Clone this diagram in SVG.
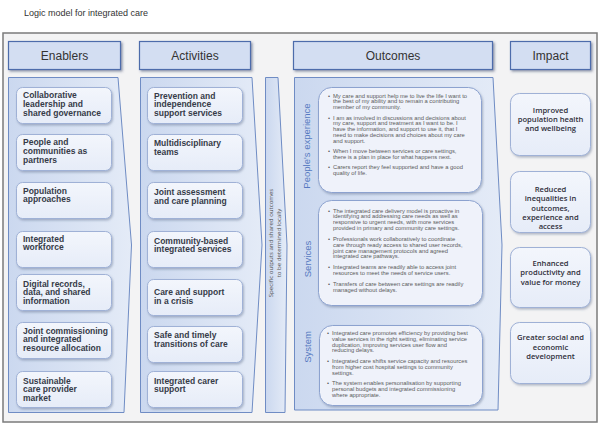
<svg xmlns="http://www.w3.org/2000/svg" width="600" height="425" viewBox="0 0 600 425">
<defs>
<linearGradient id="panelGrad" x1="0" y1="0" x2="1" y2="0">
<stop offset="0" stop-color="#cbd8ef"/>
<stop offset="1" stop-color="#e4ebf7"/>
</linearGradient>
<linearGradient id="boxGrad" x1="0" y1="0" x2="0" y2="1">
<stop offset="0" stop-color="#f3f6fc"/>
<stop offset="1" stop-color="#e6ecf8"/>
</linearGradient>
<filter id="sh" x="-10%" y="-10%" width="125%" height="130%">
<feDropShadow dx="1" dy="1.5" stdDeviation="0.9" flood-color="#5a6a8a" flood-opacity="0.45"/>
</filter>
<filter id="shHead" x="-10%" y="-20%" width="125%" height="150%">
<feDropShadow dx="1.5" dy="1.5" stdDeviation="0.8" flood-color="#3a4a6a" flood-opacity="0.55"/>
</filter>
<style>
.title{font-family:"Liberation Sans",Arial,sans-serif;font-size:9px;fill:#333}
.frame{fill:#f3f3f4;stroke:#7b7b7b;stroke-width:1.5}
.head{fill:#d3def2;stroke:#4d6cab;stroke-width:1.2;filter:url(#shHead)}
.headt{font-family:"Liberation Sans",Arial,sans-serif;font-size:12px;fill:#333;text-anchor:middle}
.panel{fill:url(#panelGrad);stroke:#6f8cc4;stroke-width:1}
.box{fill:url(#boxGrad);stroke:#9fb1d6;stroke-width:1;filter:url(#sh)}
.bt{font-family:"Liberation Sans",Arial,sans-serif;font-size:8.5px;font-weight:bold;fill:#363b48}
.it{font-family:"Open Sans","Noto Sans",sans-serif;font-size:7.6px;font-weight:600;fill:#2f2f3a;text-anchor:middle}
.obox{fill:#eff2fa;stroke:#8ca2cf;stroke-width:1;filter:url(#sh)}
.side{font-family:"Liberation Sans",Arial,sans-serif;font-size:9.5px;fill:#5679c1;text-anchor:middle}
.st{font-family:"Open Sans","Noto Sans",sans-serif;font-size:6.1px;fill:#555;text-anchor:middle}
.bl{font-family:"Liberation Sans",Arial,sans-serif;font-size:5.8px;fill:#5a5a5a}
</style>
</defs>

<text class="title" x="24" y="16">Logic model for integrated care</text>
<rect class="frame" x="3" y="33" width="594" height="389"/>

<g id="header-enablers"><rect class="head" x="8.5" y="41.5" width="112" height="28"/><text class="headt" x="64.5" y="59.5">Enablers</text></g>
<g id="header-activities"><rect class="head" x="139.5" y="41.5" width="111" height="28"/><text class="headt" x="195" y="59.5">Activities</text></g>
<g id="header-outcomes"><rect class="head" x="293.5" y="41.5" width="199" height="28"/><text class="headt" x="393" y="59.5">Outcomes</text></g>
<g id="header-impact"><rect class="head" x="510.5" y="41.5" width="80" height="28"/><text class="headt" x="550.5" y="59.5">Impact</text></g>

<g id="panel-enablers"><polygon class="panel" points="8.5,77.5 118,77.5 131.5,245 124,412.5 8.5,412.5"/></g>
<g id="panel-activities"><polygon class="panel" points="140.5,77.5 252,77.5 262,245 252,412.5 140.5,412.5"/></g>
<g id="panel-strip"><polygon class="panel" points="265.5,77.5 278,77.5 287,245 285,412.5 265.5,412.5"/>
<g transform="translate(273,243) rotate(-90)"><text class="st" x="0" y="0">Specific outputs and shared outcomes</text></g>
<g transform="translate(281,243) rotate(-90)"><text class="st" x="0" y="0">to be determined locally</text></g>
</g>
<g id="panel-outcomes"><polygon class="panel" points="294.5,77.5 493,77.5 502,245 498,410 294.5,410"/></g>

<g id="enabler-1"><rect class="box" x="16.5" y="87.5" width="95" height="36" rx="6"/><text class="bt" y="98"><tspan x="23">Collaborative</tspan><tspan x="23" dy="8.8">leadership and</tspan><tspan x="23" dy="8.8">shared governance</tspan></text></g>
<g id="enabler-2"><rect class="box" x="16.5" y="134.5" width="95" height="36" rx="6"/><text class="bt" y="145"><tspan x="23">People and</tspan><tspan x="23" dy="8.8">communities as</tspan><tspan x="23" dy="8.8">partners</tspan></text></g>
<g id="enabler-3"><rect class="box" x="16.5" y="182.5" width="95" height="36" rx="6"/><text class="bt" y="193.5"><tspan x="23">Population</tspan><tspan x="23" dy="8.8">approaches</tspan></text></g>
<g id="enabler-4"><rect class="box" x="16.5" y="231.5" width="95" height="36" rx="6"/><text class="bt" y="241.5"><tspan x="23">Integrated</tspan><tspan x="23" dy="8.8">workforce</tspan></text></g>
<g id="enabler-5"><rect class="box" x="16.5" y="274.5" width="95" height="36" rx="6"/><text class="bt" y="286.5"><tspan x="23">Digital records,</tspan><tspan x="23" dy="8.8">data, and shared</tspan><tspan x="23" dy="8.8">information</tspan></text></g>
<g id="enabler-6"><rect class="box" x="16.5" y="322.5" width="95" height="36" rx="6"/><text class="bt" y="333.5"><tspan x="23">Joint commissioning</tspan><tspan x="23" dy="8.8">and integrated</tspan><tspan x="23" dy="8.8">resource allocation</tspan></text></g>
<g id="enabler-7"><rect class="box" x="16.5" y="371.5" width="95" height="36" rx="6"/><text class="bt" y="383.5"><tspan x="23">Sustainable</tspan><tspan x="23" dy="8.8">care provider</tspan><tspan x="23" dy="8.8">market</tspan></text></g>

<g id="activity-1"><rect class="box" x="147.5" y="87.5" width="95" height="36" rx="6"/><text class="bt" y="98.5"><tspan x="154">Prevention and</tspan><tspan x="154" dy="8.8">independence</tspan><tspan x="154" dy="8.8">support services</tspan></text></g>
<g id="activity-2"><rect class="box" x="147.5" y="134.5" width="95" height="36" rx="6"/><text class="bt" y="146"><tspan x="154">Multidisciplinary</tspan><tspan x="154" dy="8.8">teams</tspan></text></g>
<g id="activity-3"><rect class="box" x="147.5" y="182.5" width="95" height="36" rx="6"/><text class="bt" y="194.5"><tspan x="154">Joint assessment</tspan><tspan x="154" dy="9">and care planning</tspan></text></g>
<g id="activity-4"><rect class="box" x="147.5" y="231.5" width="95" height="36" rx="6"/><text class="bt" y="243.5"><tspan x="154">Community-based</tspan><tspan x="154" dy="8.8">integrated services</tspan></text></g>
<g id="activity-5"><rect class="box" x="147.5" y="279.5" width="95" height="36" rx="6"/><text class="bt" y="295"><tspan x="154">Care and support</tspan><tspan x="154" dy="8.8">in a crisis</tspan></text></g>
<g id="activity-6"><rect class="box" x="147.5" y="326.5" width="95" height="36" rx="6"/><text class="bt" y="338"><tspan x="154">Safe and timely</tspan><tspan x="154" dy="9">transitions of care</tspan></text></g>
<g id="activity-7"><rect class="box" x="147.5" y="371.5" width="95" height="36" rx="6"/><text class="bt" y="383.5"><tspan x="154">Integrated carer</tspan><tspan x="154" dy="8.8">support</tspan></text></g>

<g id="outcome-people">
<g transform="translate(310,146) rotate(-90)"><text class="side" x="0" y="0">People's experience</text></g>
<rect class="obox" x="318.5" y="87.5" width="163" height="105" rx="13"/>
<text class="bl" y="97.5"><tspan x="328">•</tspan><tspan x="333">My care and support help me to live the life I want to</tspan><tspan x="333" dy="5.8">the best of my ability and to remain a contributing</tspan><tspan x="333" dy="5.8">member of my community.</tspan></text>
<text class="bl" y="119.5"><tspan x="328">•</tspan><tspan x="333">I am as involved in discussions and decisions about</tspan><tspan x="333" dy="5.8">my care, support and treatment as I want to be. I</tspan><tspan x="333" dy="5.8">have the information, and support to use it, that I</tspan><tspan x="333" dy="5.8">need to make decisions and choices about my care</tspan><tspan x="333" dy="5.8">and support.</tspan></text>
<text class="bl" y="153.1"><tspan x="328">•</tspan><tspan x="333">When I move between services or care settings,</tspan><tspan x="333" dy="5.8">there is a plan in place for what happens next.</tspan></text>
<text class="bl" y="169.3"><tspan x="328">•</tspan><tspan x="333">Carers report they feel supported and have a good</tspan><tspan x="333" dy="5.8">quality of life.</tspan></text>
</g>

<g id="outcome-services">
<g transform="translate(311,259) rotate(-90)"><text class="side" x="0" y="0">Services</text></g>
<rect class="obox" x="318.5" y="200.5" width="164" height="105" rx="13"/>
<text class="bl" y="212.5"><tspan x="328">•</tspan><tspan x="333">The integrated care delivery model is proactive in</tspan><tspan x="333" dy="5.8">identifying and addressing care needs as well as</tspan><tspan x="333" dy="5.8">responsive to urgent needs, with more services</tspan><tspan x="333" dy="5.8">provided in primary and community care settings.</tspan></text>
<text class="bl" y="240.9"><tspan x="328">•</tspan><tspan x="333">Professionals work collaboratively to coordinate</tspan><tspan x="333" dy="5.8">care through ready access to shared user records,</tspan><tspan x="333" dy="5.8">joint care management protocols and agreed</tspan><tspan x="333" dy="5.8">integrated care pathways.</tspan></text>
<text class="bl" y="269.3"><tspan x="328">•</tspan><tspan x="333">Integrated teams are readily able to access joint</tspan><tspan x="333" dy="5.8">resources to meet the needs of service users.</tspan></text>
<text class="bl" y="286.1"><tspan x="328">•</tspan><tspan x="333">Transfers of care between care settings are readily</tspan><tspan x="333" dy="5.8">managed without delays.</tspan></text>
</g>

<g id="outcome-system">
<g transform="translate(311,347) rotate(-90)"><text class="side" x="0" y="0">System</text></g>
<rect class="obox" x="319.5" y="325.5" width="163" height="80" rx="13"/>
<text class="bl" y="335"><tspan x="327">•</tspan><tspan x="332">Integrated care promotes efficiency by providing best</tspan><tspan x="332" dy="5.8">value services in the right setting, eliminating service</tspan><tspan x="332" dy="5.8">duplication, improving services user flow and</tspan><tspan x="332" dy="5.8">reducing delays.</tspan></text>
<text class="bl" y="363.1"><tspan x="327">•</tspan><tspan x="332">Integrated care shifts service capacity and resources</tspan><tspan x="332" dy="5.8">from higher cost hospital settings to community</tspan><tspan x="332" dy="5.8">settings.</tspan></text>
<text class="bl" y="385.4"><tspan x="327">•</tspan><tspan x="332">The system enables personalisation by supporting</tspan><tspan x="332" dy="5.8">personal budgets and integrated commissioning</tspan><tspan x="332" dy="5.8">where appropriate.</tspan></text>
</g>

<g id="impact-1"><rect class="box" x="510.5" y="93.5" width="80" height="62" rx="9"/><text class="it" y="113"><tspan x="550.5">Improved</tspan><tspan x="550.5" dy="9">population health</tspan><tspan x="550.5" dy="9">and wellbeing</tspan></text></g>
<g id="impact-2"><rect class="box" x="510.5" y="171.5" width="80" height="61" rx="9"/><text class="it" y="192"><tspan x="550.5">Reduced</tspan><tspan x="550.5" dy="9.3">inequalities in</tspan><tspan x="550.5" dy="9.3">outcomes,</tspan><tspan x="550.5" dy="9.3">experience and</tspan><tspan x="550.5" dy="9.3">access</tspan></text></g>
<g id="impact-3"><rect class="box" x="510.5" y="247.5" width="80" height="60" rx="9"/><text class="it" y="265.5"><tspan x="550.5">Enhanced</tspan><tspan x="550.5" dy="9.5">productivity and</tspan><tspan x="550.5" dy="9.5">value for money</tspan></text></g>
<g id="impact-4"><rect class="box" x="510.5" y="322.5" width="80" height="61" rx="9"/><text class="it" y="340"><tspan x="550.5">Greater social and</tspan><tspan x="550.5" dy="9.5">economic</tspan><tspan x="550.5" dy="9.5">development</tspan></text></g>

<g id="connectors"></g>
</svg>
